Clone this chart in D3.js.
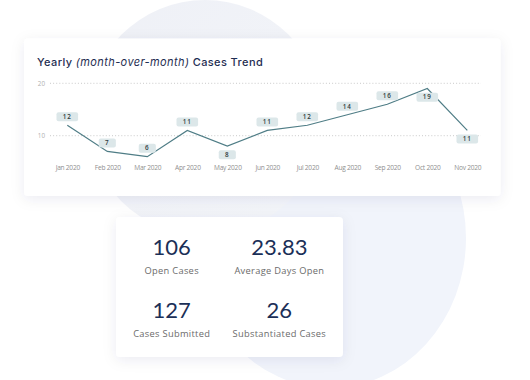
<!DOCTYPE html>
<html>
<head>
<meta charset="utf-8" />
<title>Cases Trend</title>
<script src="https://cdn.jsdelivr.net/npm/d3@7/dist/d3.min.js"></script>
<style>
body { margin: 0; background: #fff; }
svg { display: block; }
</style>
</head>
<body>
<svg id="chart" width="530" height="380"></svg>
<script>
// data
var months = ["Jan 2020", "Feb 2020", "Mar 2020", "Apr 2020", "May 2020", "Jun 2020",
              "Jul 2020", "Aug 2020", "Sep 2020", "Oct 2020", "Nov 2020"];
var cases  = [12, 7, 6, 11, 8, 11, 12, 14, 16, 19, 11];
var yTicks = [10, 20];
var statValues = ["106", "23.83", "127", "26"];
var statLabels = ["Open Cases", "Average Days Open", "Cases Submitted", "Substantiated Cases"];

// which point labels sit under the line
var labelsBelow = ["May 2020", "Oct 2020", "Nov 2020"];

var svg = d3.select("#chart");

var defs = svg.append("defs");
var f = defs.append("filter").attr("id", "shadow")
  .attr("x", "-20%").attr("y", "-20%").attr("width", "140%").attr("height", "140%");
f.append("feDropShadow").attr("dx", 0).attr("dy", 3).attr("stdDeviation", 7)
  .attr("flood-color", "#1c2a55").attr("flood-opacity", 0.08);

var g1 = defs.append("linearGradient").attr("id", "blobTop")
  .attr("x1", "0").attr("y1", "0").attr("x2", "1").attr("y2", "1");
g1.append("stop").attr("offset", "0%").attr("stop-color", "#eef0f6");
g1.append("stop").attr("offset", "100%").attr("stop-color", "#f4f6fa");

// background shapes
svg.append("ellipse")
  .attr("cx", 330).attr("cy", 238).attr("rx", 136).attr("ry", 150)
  .attr("fill", "#f1f4fb");
svg.append("circle")
  .attr("cx", 205).attr("cy", 118).attr("r", 118)
  .attr("fill", "url(#blobTop)");

// chart card
var card = { x: 24, y: 38.5, w: 476.5, h: 157.5 };
svg.append("rect")
  .attr("x", card.x).attr("y", card.y).attr("width", card.w).attr("height", card.h)
  .attr("rx", 4).attr("fill", "#fff").attr("filter", "url(#shadow)");

var title = svg.append("text")
  .attr("x", 37).attr("y", 65.5)
  .attr("font-family", "Inter, sans-serif")
  .attr("font-size", 11).attr("font-weight", 500)
  .attr("letter-spacing", 0.4)
  .attr("fill", "#1f2e52");
title.append("tspan").text("Yearly ");
title.append("tspan").attr("font-style", "italic").attr("font-weight", 400).text("(month-over-month)");
title.append("tspan").text(" Cases Trend");

// scales
var x = d3.scalePoint().domain(months).range([47.3, 487.3]).padding(0.5);
var y = d3.scaleLinear().domain([10, 20]).range([135.7, 83.3]);

// grid + y ticks
var grid = svg.append("g");
grid.selectAll("line").data(yTicks).enter().append("line")
  .attr("x1", 50).attr("x2", 481)
  .attr("y1", function(d) { return y(d); })
  .attr("y2", function(d) { return y(d); })
  .attr("stroke", "#c4c4c4").attr("stroke-width", 0.9)
  .attr("stroke-dasharray", "1,2.1");
grid.selectAll("text").data(yTicks).enter().append("text")
  .attr("x", 45).attr("y", function(d) { return y(d); })
  .attr("dy", "0.35em").attr("text-anchor", "end")
  .attr("font-family", "'Open Sans', sans-serif").attr("font-size", 6.3)
  .attr("fill", "#b0b0b0")
  .text(function(d) { return d; });

// x axis labels
var xAxis = d3.axisBottom(x).tickSize(0).tickPadding(0);
var ax = svg.append("g").attr("transform", "translate(0,165.5)").call(xAxis);
ax.select(".domain").remove();
ax.selectAll("text")
  .attr("font-family", "'Open Sans', sans-serif").attr("font-size", 6.6)
  .attr("letter-spacing", -0.25)
  .attr("fill", "#8f8f8f");

// line
var line = d3.line()
  .x(function(d, i) { return x(months[i]); })
  .y(function(d) { return y(d); });
svg.append("path").datum(cases)
  .attr("d", line)
  .attr("fill", "none").attr("stroke", "#4f7d86").attr("stroke-width", 1.2);

// point labels
var lbl = svg.selectAll(".lbl").data(cases).enter().append("g")
  .attr("class", "lbl")
  .attr("transform", function(d, i) {
    var off = labelsBelow.indexOf(months[i]) >= 0 ? 8.6 : -8.4;
    return "translate(" + x(months[i]) + "," + (y(d) + off) + ")";
  });
lbl.append("rect")
  .attr("x", function(d) { return -(12.6 + 4.5 * String(d).length) / 2; })
  .attr("y", -4.5)
  .attr("width", function(d) { return 12.6 + 4.5 * String(d).length; })
  .attr("height", 9).attr("rx", 2)
  .attr("fill", "#dce7e9");
lbl.append("text")
  .attr("text-anchor", "middle").attr("dy", "0.35em")
  .attr("font-family", "'Open Sans', sans-serif").attr("font-size", 6.3)
  .attr("font-weight", 600).attr("letter-spacing", 1)
  .attr("fill", "#2f3a3c")
  .text(function(d) { return d; });

// stats card
var sc = { x: 116, y: 217, w: 227, h: 140 };
svg.append("rect")
  .attr("x", sc.x).attr("y", sc.y).attr("width", sc.w).attr("height", sc.h)
  .attr("rx", 4).attr("fill", "#fff").attr("filter", "url(#shadow)");

var colX = [171.7, 279.3];
var rowY = [255, 318.3];
var stats = svg.selectAll(".stat").data(statValues).enter().append("g")
  .attr("class", "stat")
  .attr("transform", function(d, i) {
    return "translate(" + colX[i % 2] + "," + rowY[Math.floor(i / 2)] + ")";
  });
stats.append("text")
  .attr("text-anchor", "middle")
  .attr("font-family", "Lato, sans-serif").attr("font-size", 22).attr("font-weight", 400)
  .attr("fill", "#1b2f57")
  .text(function(d) { return d; });
stats.append("text")
  .attr("text-anchor", "middle").attr("y", 18.5)
  .attr("font-family", "'Open Sans', sans-serif").attr("font-size", 9.3)
  .attr("letter-spacing", 0.3)
  .attr("fill", "#6b6b6b")
  .text(function(d, i) { return statLabels[i]; });
</script>
</body>
</html>
